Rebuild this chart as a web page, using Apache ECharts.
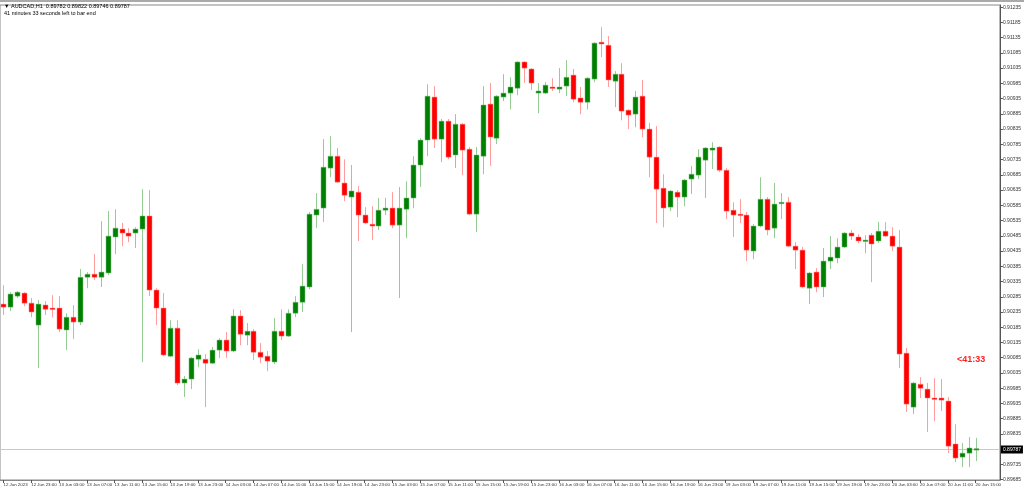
<!DOCTYPE html>
<html><head><meta charset="utf-8">
<script src="https://cdn.jsdelivr.net/npm/echarts@6/dist/echarts.min.js"></script>
<style>html,body{margin:0;padding:0;background:#fff}#c{width:1024px;height:488px}</style>
</head><body><div id="c"></div>
<script>
// OHLC in price points (x 1e-5)
const opens = [90261,90251,90287,90297,90264,90192,90258,90248,90248,90176,90218,90202,90349,90359,90349,90363,90481,90507,90494,90494,
90507,90550,90307,90248,90090,90182,90002,90015,90080,90080,90067,90110,90143,90107,90222,90159,90172,90103,90090,90071,
90172,90156,90231,90267,90317,90553,90576,90707,90746,90658,90612,90628,90553,90523,90517,90569,90576,90520,90572,90609,
90717,90799,90940,90802,90861,90750,90851,90769,90556,90746,90917,90805,90940,90953,90969,91055,91032,90953,90953,90973,
90966,90976,91012,90937,90923,90999,91120,91110,90992,91015,90897,90884,90943,90835,90743,90641,90579,90628,90612,90671,
90684,90733,90766,90776,90700,90569,90556,90553,90435,90517,90605,90510,90592,90595,90451,90438,90313,90366,90317,90402,
90412,90448,90494,90481,90468,90487,90468,90500,90484,90448,90100,89923,89998,89982,89953,89953,89943,89802,89759,89772,89782];
const highs = [90323,90300,90304,90300,90281,90274,90271,90290,90287,90231,90258,90376,90366,90425,90533,90566,90572,90527,90510,90513,
90638,90635,90313,90297,90208,90208,90025,90087,90113,90097,90120,90149,90169,90244,90241,90199,90179,90133,90107,90215,
90244,90244,90287,90392,90563,90625,90802,90812,90773,90736,90717,90648,90579,90582,90609,90609,90628,90645,90664,90746,
90805,90982,90976,90868,90868,90884,90855,90776,90776,90976,90986,90946,91015,91005,91058,91058,91035,90986,90989,91002,
91035,91061,91032,90973,91005,91120,91169,91140,91025,91051,90900,90960,90996,90855,90845,90687,90635,90635,90671,90714,
90769,90776,90792,90779,90707,90595,90605,90563,90523,90677,90612,90658,90625,90612,90464,90448,90366,90379,90445,90484,
90477,90497,90504,90490,90487,90494,90530,90530,90513,90504,90117,90005,90021,90002,90018,90015,89956,89867,89805,89825,89822];
const lows = [90225,90238,90281,90254,90218,90051,90225,90218,90169,90110,90146,90192,90313,90340,90317,90356,90425,90451,90464,90445,
90071,90287,90192,90090,90087,89995,89956,89982,90054,89923,90064,90084,90084,90103,90126,90126,90077,90067,90041,90064,
90143,90153,90218,90235,90310,90510,90530,90677,90658,90599,90169,90468,90523,90471,90504,90553,90510,90281,90477,90576,
90645,90746,90773,90727,90736,90707,90684,90553,90497,90687,90714,90786,90927,90900,90946,90986,90963,90887,90950,90960,
90953,90943,90923,90884,90900,90989,91071,90973,90907,90864,90835,90841,90809,90677,90527,90513,90566,90546,90582,90622,
90671,90609,90704,90694,90540,90481,90527,90402,90408,90513,90487,90477,90540,90448,90376,90313,90261,90300,90284,90376,
90395,90445,90471,90461,90428,90333,90461,90481,90435,90051,89907,89900,89953,89841,89877,89910,89772,89743,89726,89726,89746];
const closes = [90251,90294,90300,90264,90235,90261,90244,90246,90179,90218,90202,90349,90359,90349,90366,90484,90510,90494,90484,90507,
90550,90307,90248,90094,90182,90002,90015,90084,90094,90067,90110,90143,90107,90222,90162,90172,90103,90087,90074,90172,
90156,90231,90267,90320,90556,90572,90710,90746,90661,90618,90632,90553,90527,90517,90569,90576,90520,90576,90609,90717,
90799,90943,90802,90861,90743,90851,90766,90556,90750,90914,90809,90943,90953,90973,91055,91035,90986,90960,90979,90969,
90973,91005,90933,90923,91002,91117,91114,90996,91015,90894,90881,90940,90835,90743,90638,90576,90632,90612,90668,90687,
90743,90773,90773,90700,90566,90553,90553,90438,90517,90605,90504,90589,90595,90451,90438,90317,90363,90317,90402,90415,
90448,90494,90484,90468,90471,90458,90500,90484,90451,90097,89933,90002,89985,89953,89949,89946,89795,89756,89772,89789,89787];
const yTicks = [];
for (let v = 91235; v >= 89685; v -= 50) yTicks.push(v / 1e5);
const mon = ['Jan','Feb','Mar','Apr','May','Jun','Jul','Aug','Sep','Oct','Nov','Dec'];
// hourly bar times: 12 Jun 19:00 -> 16 Jun 23:00, then 19 Jun 00:00 -> 20 Jun 15:00
const categories = [];
function pushRange(d0, h0, d1, h1) {
  let t = Date.UTC(2023, 5, d0, h0), end = Date.UTC(2023, 5, d1, h1);
  for (; t <= end; t += 3600000) {
    const d = new Date(t);
    categories.push(d.getUTCDate() + ' ' + mon[d.getUTCMonth()] + ' ' + String(d.getUTCHours()).padStart(2, '0') + ':00');
  }
}
pushRange(12, 19, 16, 23);
pushRange(19, 0, 20, 15);
categories[0] = '12 Jun 2023';
const cats = categories.concat(['', '', '']);
const data = opens.map((o, i) => [i, o / 1e5, closes[i] / 1e5, lows[i] / 1e5, highs[i] / 1e5]);
const lastPrice = closes[closes.length - 1] / 1e5;

const chart = echarts.init(document.getElementById('c'));
chart.setOption({
  animation: false,
  backgroundColor: '#fff',
  grid: { left: 0, right: 18, top: 5, bottom: 8, show: true, borderColor: '#888', borderWidth: 1 },
  xAxis: {
    type: 'category', data: cats, boundaryGap: true,
    axisLine: { lineStyle: { color: '#888' } },
    axisTick: { show: true, interval: 3, alignWithLabel: true, length: 3, lineStyle: { color: '#555' } },
    axisLabel: { interval: 3, align: 'left', fontSize: 4.4, color: '#333', margin: 3, fontFamily: 'Liberation Sans',
      showMinLabel: true, hideOverlap: false },
    splitLine: { show: false }
  },
  yAxis: {
    type: 'value', position: 'right', min: 0.89684, max: 0.91242, scale: true,
    axisLine: { show: true, lineStyle: { color: '#555' } },
    axisTick: { show: true, length: 3, customValues: yTicks, lineStyle: { color: '#555' } },
    axisLabel: { customValues: yTicks, fontSize: 5, color: '#333', margin: 3, fontFamily: 'Liberation Sans',
      formatter: v => v.toFixed(5) },
    splitLine: { show: false }
  },
  series: [{
    type: 'custom',
    data: [[0, lastPrice]],
    encode: { x: 0, y: 1 },
    z: 1,
    renderItem: function (params, api) {
      const p = api.coord([0, api.value(1)]);
      const y = Math.round(p[1]) + 0.5;
      const right = params.coordSys.x + params.coordSys.width;
      return { type: 'group', children: [
        { type: 'line', shape: { x1: params.coordSys.x, y1: y, x2: right, y2: y },
          style: { stroke: '#c8c8c8', lineWidth: 1 } },
        { type: 'rect', shape: { x: right + 1, y: y - 4, width: 22, height: 8 },
          style: { fill: '#000' } },
        { type: 'text', x: right + 3, y: y,
          style: { text: lastPrice.toFixed(5), fill: '#fff', fontSize: 5, verticalAlign: 'middle', fontFamily: 'Liberation Sans' } }
      ]};
    }
  }, {
    type: 'custom',
    data: data,
    z: 2,
    encode: { x: 0, y: [1, 2, 3, 4] },
    renderItem: function (params, api) {
      const x = api.value(0), o = api.value(1), c = api.value(2), l = api.value(3), h = api.value(4);
      const po = api.coord([x, o]), pc = api.coord([x, c]), pl = api.coord([x, l]), ph = api.coord([x, h]);
      const up = c >= o;
      const cx = Math.round(po[0]) + 0.5;
      const top = Math.min(po[1], pc[1]), hgt = Math.max(Math.abs(po[1] - pc[1]), 1.5);
      return { type: 'group', children: [
        { type: 'line', shape: { x1: cx, y1: ph[1], x2: cx, y2: pl[1] },
          style: { stroke: up ? '#94cc94' : '#ff9c9c', lineWidth: 1 } },
        { type: 'rect', shape: { x: cx - 2.5, y: top, width: 5, height: hgt },
          style: { fill: up ? '#008000' : '#ff0000', stroke: up ? '#7fbf7f' : '#ff8080', lineWidth: 0.5 } }
      ]};
    }
  }],
  graphic: [
    { type: 'rect', shape: { x: 0, y: 0, width: 1024, height: 2 }, style: { fill: '#aaa' } },
    { type: 'text', left: 4, top: 3, style: { text: '\u25BC AUDCAD,H1  0.89782 0.89822 0.89746 0.89787', fontSize: 5.5, fill: '#000', fontFamily: 'Liberation Sans' } },
    { type: 'text', left: 4, top: 10, style: { text: '41 minutes 33 seconds left to bar end', fontSize: 5.5, fill: '#000', fontFamily: 'Liberation Sans' } },
    { type: 'text', left: 957, top: 355, style: { text: '<41:33', fontSize: 9, fontWeight: 'bold', fill: '#ff2020', fontFamily: 'Liberation Sans' } }
  ]
});
</script></body></html>
